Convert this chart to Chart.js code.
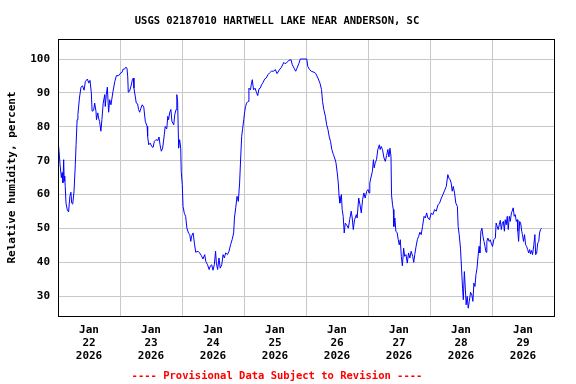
<!DOCTYPE html>
<html>
<head>
<meta charset="utf-8">
<script src="https://cdn.jsdelivr.net/npm/chart.js@4/dist/chart.umd.min.js"></script>
<style>
  html, body { margin: 0; padding: 0; background: #fff; }
  #wrap { width: 576px; height: 384px; }
</style>
</head>
<body>
<div id="wrap"><canvas id="rhChart" width="576" height="384"></canvas></div>
<script>
// hours since Jan 22 2026 00:00
const hours = [
  0, 0.4, 0.8, 1.3, 1.6, 1.9, 2.2, 2.4, 2.6, 2.8, 3.1, 3.6, 4.1, 4.6, 5.0, 5.3, 5.7, 6.2, 6.7, 7.0,
  7.4, 7.7, 8.3, 8.9, 9.5, 10.1, 10.6, 11.4, 11.9, 12.4, 12.9, 13.2, 13.8, 14.2, 14.7, 14.9, 15.4, 15.7, 16.1, 16.6,
  17.0, 17.5, 18.1, 18.3, 18.7, 19.1, 19.6, 20.0, 20.5, 20.9, 21.3, 22.0, 22.6, 23.5, 24.0, 24.8, 25.2, 25.7, 26.3, 26.7,
  27.0, 27.2, 27.7, 28.3, 28.8, 29.2, 29.4, 30.0, 30.3, 30.8, 31.2, 31.6, 32.1, 32.6, 33.2, 33.8, 34.5, 34.7, 35.1, 35.7,
  36.3, 36.8, 37.3, 37.9, 38.7, 39.1, 39.5, 40.0, 40.5, 41.0, 41.5, 42.1, 42.5, 42.8, 43.2, 43.7, 44.1, 44.8, 45.2, 45.7,
  46.0, 46.3, 46.7, 47.1, 47.5, 47.7, 48.1, 48.4, 48.9, 49.4, 49.9, 50.5, 51.0, 51.4, 51.7, 52.3, 52.8, 53.3, 54.2, 54.8,
  55.5, 56.1, 56.8, 57.2, 57.9, 58.5, 59.0, 59.5, 60.0, 60.5, 61.0, 61.3, 61.8, 62.3, 62.8, 63.4, 63.9, 64.4, 64.9, 65.6,
  66.2, 66.8, 67.4, 68.0, 68.3, 68.8, 69.3, 69.8, 70.3, 70.8, 71.1, 71.5, 71.9, 72.3, 72.6, 73.0, 73.6, 73.9, 74.5, 74.8,
  75.2, 75.7, 76.3, 76.8, 77.3, 77.8, 78.3, 78.8, 79.4, 80.0, 80.6, 81.3, 81.9, 82.6, 83.5, 84.1, 84.8, 85.6, 86.5, 87.4,
  87.9, 88.6, 89.4, 90.2, 90.7, 91.4, 92.0, 92.5, 93.2, 93.8, 96.3, 96.7, 97.3, 98.0, 99.1, 99.8, 100.6, 101.4, 102.0, 102.4,
  102.9, 103.5, 104.0, 104.5, 105.0, 105.5, 106.0, 106.6, 107.1, 107.6, 108.1, 108.5, 108.8, 109.1, 109.7, 110.0, 110.4, 110.8, 111.2, 111.7,
  112.4, 112.9, 113.5, 113.9, 114.3, 114.8, 115.5, 115.8, 116.4, 116.9, 117.4, 117.9, 118.4, 118.9, 119.5, 120.0, 120.4, 120.7, 121.1, 121.7,
  122.1, 122.4, 122.8, 123.3, 123.8, 124.4, 124.7, 125.1, 125.6, 126.2, 126.7, 127.2, 127.7, 128.1, 128.5, 128.9, 129.1, 129.5, 129.8, 130.0,
  130.4, 130.8, 131.3, 131.7, 132.1, 132.5, 132.9, 133.3, 133.8, 134.2, 134.7, 135.2, 135.7, 136.2, 136.7, 137.3, 137.7, 138.1, 138.6, 139.1,
  139.6, 140.1, 140.6, 141.1, 141.7, 142.2, 142.7, 143.2, 143.8, 144.5, 145.1, 145.8, 146.4, 147.1, 147.7, 148.4, 149.0, 149.7, 150.3, 150.9,
  151.3, 151.8, 152.2, 152.6, 153.0, 153.5, 154.0, 154.6, 154.9, 155.3, 155.8, 156.2, 156.6, 156.9, 157.3, 157.7, 158.0, 158.4, 158.8, 159.2,
  159.7, 160.2, 160.6, 161.0, 161.4, 161.8, 162.2, 162.6, 163.0, 163.3, 163.7, 164.1, 164.5, 164.9, 165.3, 165.7, 166.0, 166.4, 166.9, 167.3,
  167.7, 168.2, 168.7, 169.3, 169.6, 170.0, 170.4, 170.8, 171.2, 171.6, 172.0, 172.4, 172.8, 173.1, 173.5, 173.9, 174.3, 174.7, 175.1, 175.5,
  175.8, 176.2, 176.6, 177.0, 177.4, 177.8, 178.0, 178.3, 178.7, 179.1, 179.5, 179.8, 180.2, 180.6, 181.0, 181.4, 181.8, 182.2, 182.6, 182.9,
  183.3, 183.7, 184.2, 184.6, 184.9, 185.3, 185.7, 186.1, 186.4, 186.8, 187.2
];
const rh = [
  76.0, 72.8, 68.8, 65.0, 66.5, 63.5, 70.3, 64.0, 65.5, 62.4, 57.5, 55.5, 54.9, 59.5, 60.7, 57.5, 57.2, 61.0, 68.8, 74.7,
  82.1, 83.6, 88.5, 91.7, 92.1, 90.8, 93.4, 94.1, 92.9, 93.7, 90.0, 84.6, 84.9, 87.0, 84.6, 82.1, 84.1, 82.6, 81.6, 78.7,
  82.1, 87.0, 89.5, 86.0, 89.5, 91.7, 84.3, 88.0, 86.5, 88.5, 90.5, 93.4, 95.1, 95.1, 95.7, 96.1, 97.0, 97.0, 97.6, 97.3,
  94.7, 90.2, 90.5, 92.1, 93.9, 94.4, 91.4, 88.5, 87.0, 86.8, 85.1, 84.3, 85.5, 86.5, 85.8, 81.6, 80.1, 77.2, 74.7, 75.2,
  74.2, 73.9, 75.7, 76.2, 76.0, 77.0, 74.7, 72.8, 73.7, 76.7, 80.1, 79.4, 83.1, 82.1, 84.1, 85.1, 81.6, 80.6, 83.6, 85.1,
  89.5, 87.5, 73.7, 76.2, 73.7, 66.9, 63.0, 56.5, 54.5, 53.6, 50.1, 48.7, 48.2, 46.2, 47.7, 48.7, 45.7, 43.0, 43.3, 42.8,
  42.0, 41.0, 42.3, 40.3, 39.3, 37.9, 39.0, 39.3, 37.7, 39.3, 43.3, 39.8, 37.9, 41.3, 38.3, 39.3, 42.3, 41.3, 42.8, 42.3,
  43.3, 45.2, 46.7, 48.7, 53.1, 56.1, 59.5, 58.0, 63.4, 72.3, 77.2, 79.6, 82.1, 84.6, 86.0, 87.0, 87.5, 91.4, 90.9, 92.4,
  93.9, 90.9, 91.4, 90.2, 89.2, 91.2, 91.4, 92.4, 93.1, 94.1, 94.4, 95.4, 95.9, 96.4, 96.4, 96.9, 95.7, 96.7, 97.6, 99.0,
  98.6, 99.0, 99.6, 99.8, 98.3, 97.3, 96.4, 97.3, 98.6, 100.0, 100.0, 97.8, 97.0, 96.4, 96.1, 95.7, 94.4, 92.9, 91.0, 87.5,
  85.1, 83.1, 80.6, 79.2, 77.0, 75.7, 73.3, 71.8, 70.8, 69.4, 66.4, 63.4, 59.5, 57.5, 60.0, 55.6, 53.6, 48.7, 51.6, 51.1,
  50.1, 52.6, 55.1, 53.1, 49.7, 52.6, 54.1, 53.1, 59.0, 57.0, 54.6, 58.5, 60.5, 59.0, 61.0, 61.5, 60.5, 63.4, 64.9, 66.9,
  70.3, 67.9, 69.4, 70.3, 73.3, 74.7, 73.3, 74.2, 73.3, 70.8, 69.8, 71.5, 73.3, 71.1, 73.7, 71.3, 60.0, 57.0, 55.6, 50.6,
  53.1, 49.2, 48.7, 46.7, 45.2, 46.7, 41.8, 39.0, 44.2, 41.8, 42.3, 39.8, 42.8, 41.3, 43.3, 41.8, 40.0, 42.3, 44.7, 46.7,
  47.7, 48.9, 48.2, 50.6, 53.6, 53.1, 54.6, 53.1, 52.6, 54.6, 54.1, 55.6, 55.1, 57.0, 57.5, 59.0, 60.0, 61.3, 62.4, 65.9,
  64.9, 64.4, 63.4, 61.0, 62.4, 60.5, 57.5, 56.5, 50.6, 48.2, 44.2, 38.3, 32.4, 29.0, 37.3, 31.9, 27.5, 30.0, 26.5, 28.5,
  31.2, 30.4, 28.5, 33.9, 32.9, 36.4, 38.3, 41.8, 44.7, 42.8, 49.2, 50.1, 47.7, 46.2, 44.7, 43.0, 46.2, 47.2, 46.2, 46.7,
  45.7, 44.7, 46.7, 47.2, 51.6, 50.6, 49.7, 51.1, 52.4, 49.7, 51.6, 52.1, 49.2, 52.6, 51.1, 53.6, 49.7, 53.6, 52.1, 54.6,
  55.1, 56.1, 53.6, 54.1, 52.1, 52.6, 49.2, 46.2, 52.1, 51.6, 49.2, 48.2, 46.2, 48.2, 45.2, 44.7, 43.8, 42.8, 43.8, 42.5,
  43.5, 42.3, 45.2, 48.2, 42.3, 42.8, 45.7, 46.2, 48.7, 49.7, 50.1
];

const dayTicks = [12, 36, 60, 84, 108, 132, 156, 180];
const dayLabels = ['Jan 22 2026', 'Jan 23 2026', 'Jan 24 2026', 'Jan 25 2026',
                   'Jan 26 2026', 'Jan 27 2026', 'Jan 28 2026', 'Jan 29 2026'];
const gridHours = [24, 48, 72, 96, 120, 144, 168];
const yTicks = [30, 40, 50, 60, 70, 80, 90, 100];

const monoFont = { family: "'DejaVu Sans Mono', monospace", size: 10.5, weight: 'bold', lineHeight: 1.24 };
const tickFont = { family: "'DejaVu Sans Mono', monospace", size: 11, weight: 'bold', lineHeight: 1.18 };

// black frame round the plot area
const framePlugin = {
  id: 'frame',
  afterDraw(chart) {
    const a = chart.chartArea;
    const ctx = chart.ctx;
    ctx.save();
    ctx.strokeStyle = '#000';
    ctx.lineWidth = 1;
    ctx.strokeRect(Math.round(a.left) + 0.5, Math.round(a.top) + 0.5,
                   Math.round(a.right - a.left), Math.round(a.bottom - a.top));
    ctx.restore();
  }
};

new Chart(document.getElementById('rhChart'), {
  type: 'line',
  data: {
    datasets: [{
      data: hours.map((h, i) => ({ x: h, y: rh[i] })),
      borderColor: '#0000ff',
      borderWidth: 1,
      pointRadius: 0,
      tension: 0,
      fill: false
    }]
  },
  options: {
    responsive: false,
    animation: false,
    layout: { padding: { top: 0, right: 22, bottom: 0, left: 0 } },
    plugins: {
      legend: { display: false },
      tooltip: { enabled: false },
      title: {
        display: true,
        text: 'USGS 02187010 HARTWELL LAKE NEAR ANDERSON, SC',
        color: '#000',
        font: monoFont,
        padding: { top: 15, bottom: 11 }
      },
      subtitle: {
        display: true,
        position: 'bottom',
        text: '---- Provisional Data Subject to Revision ----',
        color: '#ff0000',
        font: monoFont,
        padding: { top: 0, bottom: 1 }
      }
    },
    scales: {
      x: {
        type: 'linear',
        min: 0,
        max: 192,
        afterBuildTicks(scale) {
          scale.ticks = dayTicks.concat(gridHours).sort((a, b) => a - b).map(v => ({ value: v }));
        },
        afterFit(scale) { scale.height = 54; },
        grid: {
          color: ctx => gridHours.includes(ctx.tick && ctx.tick.value) ? '#c8c8c8' : 'rgba(0,0,0,0)',
          lineWidth: 1,
          drawTicks: false
        },
        border: { display: false },
        ticks: {
          color: '#000',
          font: tickFont,
          padding: 8,
          maxRotation: 0,
          autoSkip: false,
          callback(value) {
            const i = dayTicks.indexOf(value);
            return i >= 0 ? dayLabels[i].split(' ') : '';
          }
        }
      },
      y: {
        min: 24.2,
        max: 105.9,
        afterBuildTicks(scale) {
          scale.ticks = yTicks.map(v => ({ value: v }));
        },
        afterFit(scale) { scale.width = 58; },
        grid: { color: '#c8c8c8', lineWidth: 1, drawTicks: false },
        border: { display: false },
        ticks: { color: '#000', font: tickFont, padding: 8 },
        title: {
          display: true,
          text: 'Relative humidity, percent',
          color: '#000',
          font: tickFont,
          padding: { top: 6, bottom: 0 }
        }
      }
    }
  },
  plugins: [framePlugin]
});
</script>
</body>
</html>
